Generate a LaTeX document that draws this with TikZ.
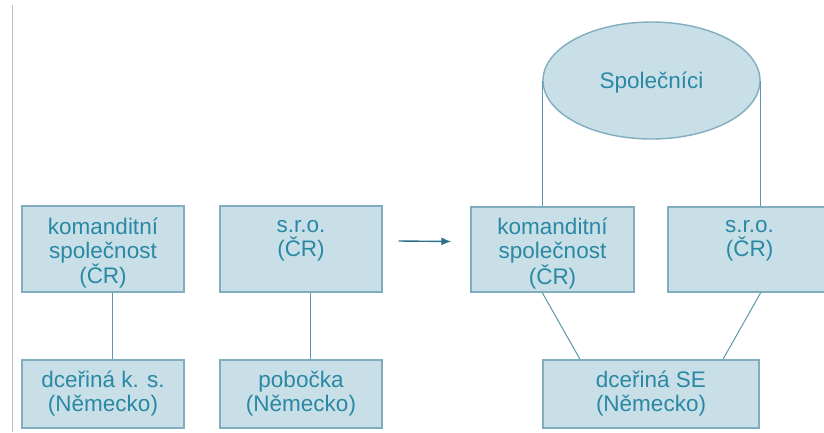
\documentclass[tikz,border=0pt]{standalone}
\usepackage{fontspec}
\setmainfont{Liberation Sans}
\usetikzlibrary{shapes.geometric,arrows.meta}
\definecolor{boxfill}{HTML}{C8DFE7}
\definecolor{boxdraw}{HTML}{80AEBF}
\definecolor{txt}{HTML}{2A88A4}
\definecolor{conn}{HTML}{5B98AC}
\definecolor{arr}{HTML}{2C6F8A}
\tikzset{
  box/.style={draw=boxdraw, fill=boxfill, line width=1.4pt, rectangle, inner sep=0pt},
  lbl/.style={align=center, inner sep=0pt, text=txt, font=\fontsize{22.5}{24}\selectfont},
  oval/.style={draw=boxdraw, fill=boxfill, line width=1.4pt, ellipse, inner sep=0pt,
    text=txt, font=\fontsize{22.5}{24}\selectfont},
  conline/.style={draw=conn, line width=1pt},
}
\begin{document}
\begin{tikzpicture}[x=1pt,y=-1pt]
\useasboundingbox (0,0) rectangle (824,432);
\clip (0,0) rectangle (824,432);
\draw[color=gray!50, line width=1pt] (12,5) -- (12,432);
\node[box, minimum width=162pt, minimum height=86pt] (k1) at (103,249) {};
\node[box, minimum width=162pt, minimum height=68pt] (d1) at (103,394) {};
\node[box, minimum width=162pt, minimum height=86pt] (s2) at (301,249) {};
\node[box, minimum width=162pt, minimum height=68pt] (p2) at (301,394) {};
\node[box, minimum width=163pt, minimum height=85pt] (k3) at (552.5,249.5) {};
\node[box, minimum width=163pt, minimum height=85pt] (s4) at (749.5,249.5) {};
\node[box, minimum width=216pt, minimum height=68pt] (se) at (651,394) {};
\node[oval, minimum width=217pt, minimum height=117pt] (e) at (651.5,80.5) {};
\node[lbl] (k1t) at ([yshift=-4pt]k1.center) {komanditní\\společnost\\(ČR)};
\node[lbl] (d1t) at (d1.center) {dceřiná k. s.\\(Německo)};
\node[lbl] (s2t) at ([yshift=-4pt]s2.center) {s.r.o.\\(ČR)\\\phantom{(ČR)}};
\node[lbl] (p2t) at (p2.center) {pobočka\\(Německo)};
\node[lbl] (k3t) at ([yshift=-4pt]k3.center) {komanditní\\společnost\\(ČR)};
\node[lbl] (s4t) at ([yshift=-4pt]s4.center) {s.r.o.\\(ČR)\\\phantom{(ČR)}};
\node[lbl] (set) at (se.center) {dceřiná SE\\(Německo)};
\node[lbl] (et) at ([yshift=-2pt]e.center) {Společníci};
\draw[conline] ([xshift=9pt]k1.south) -- ([xshift=9pt]d1.north);
\draw[conline] ([xshift=9pt]s2.south) -- ([xshift=9pt]p2.north);
\draw[conline] (e.west) -- (e.west |- k3.north);
\draw[conline] (e.east) -- (e.east |- s4.north);
\draw[conline] (k3.south -| e.west) -- ([xshift=-71pt]se.north);
\draw[conline] (s4.south -| e.east) -- ([xshift=72pt]se.north);
\draw[arr, line width=1.4pt, -{Latex[length=10pt,width=8pt]}] ([xshift=16pt,yshift=8pt]s2.east) -- ([xshift=-19pt,yshift=8pt]k3.west);
\end{tikzpicture}
\end{document}
